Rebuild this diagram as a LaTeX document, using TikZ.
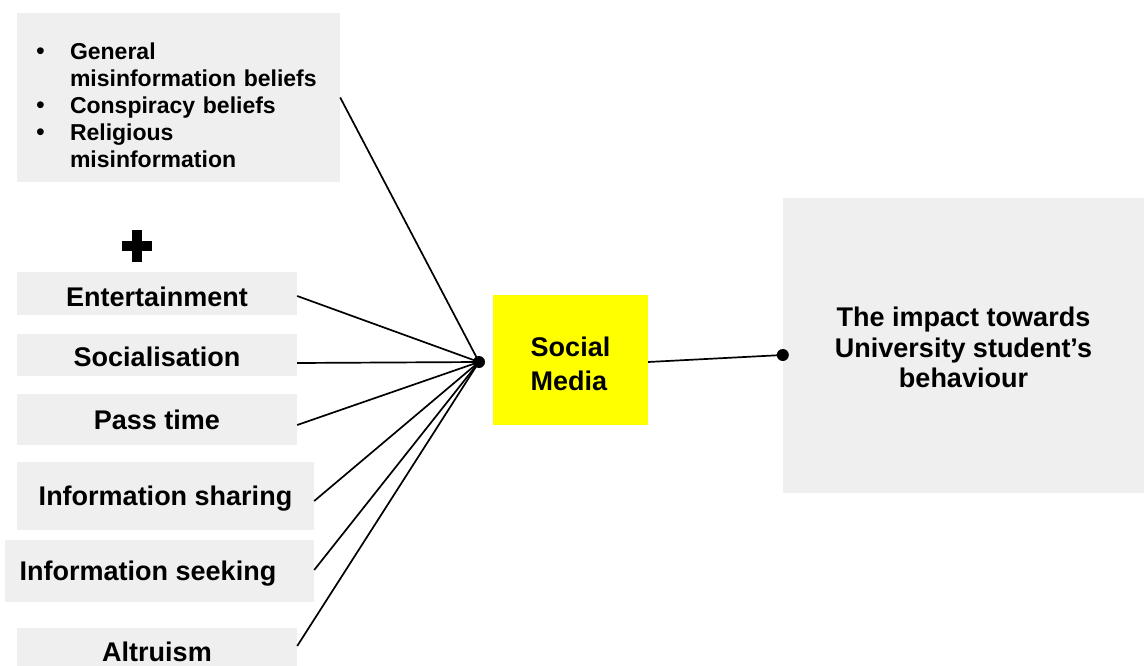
\documentclass[tikz,border=0pt]{standalone}
\usepackage{fontspec}
\setmainfont{Liberation Sans}
\definecolor{boxgray}{RGB}{239,239,239}
\definecolor{smyellow}{RGB}{255,255,0}
\begin{document}
\begin{tikzpicture}[x=1pt,y=-1pt,
  graybox/.style={fill=boxgray, draw=none, inner sep=0pt, align=center,
    text height=19.5pt, text depth=0pt,
    font=\bfseries\fontsize{27}{31}\selectfont},
  wire/.style={line width=1.7pt, black},
  hubdot/.style={circle, fill=black, draw=none, inner sep=0pt, minimum size=12pt}]
\useasboundingbox (0,0) rectangle (1144,666);

% boxes
\node[fill=boxgray, inner xsep=19pt, inner ysep=0pt, minimum width=323pt, minimum height=169pt,
      text width=285pt, align=left, font=\bfseries\fontsize{23}{27}\selectfont]
  (beliefs) at (178.5,97.5)
  {\rule{0pt}{32pt}\makebox[34pt][l]{\mdseries\fontsize{25}{27}\selectfont\textbullet}General\\
   \hspace*{34pt}misinformation beliefs\\
   \makebox[34pt][l]{\mdseries\fontsize{25}{27}\selectfont\textbullet}Conspiracy beliefs\\
   \makebox[34pt][l]{\mdseries\fontsize{25}{27}\selectfont\textbullet}Religious\\
   \hspace*{34pt}misinformation};

\node[graybox, minimum width=280pt, minimum height=43pt] (ent)   at (157,293.5) {\raisebox{-3pt}{Entertainment}};
\node[graybox, minimum width=280pt, minimum height=42pt] (soc)   at (157,355)   {\raisebox{-2pt}{Socialisation}};
\node[graybox, minimum width=280pt, minimum height=51pt] (pass)  at (157,419.5) {Pass time};
\node[graybox, minimum width=297pt, minimum height=68pt] (share) at (165.5,496) {Information sharing};
\node[graybox, minimum width=309pt, minimum height=62pt] (seek)  at (159.5,571) {Information seeking\hspace*{23pt}};
\node[graybox, minimum width=280pt, minimum height=52pt] (alt)   at (157,654)   {\raisebox{2pt}{Altruism}};

\node[fill=smyellow, inner sep=0pt, minimum width=155pt, minimum height=130pt, align=left,
      font=\bfseries\fontsize{27}{34}\selectfont] (sm) at (570.5,360) {\rule{0pt}{28pt}Social\\Media};

\node[fill=boxgray, inner sep=0pt, minimum width=361pt, minimum height=295pt, align=center,
      font=\bfseries\fontsize{27}{30.5}\selectfont] (impact) at (963.5,345.5)
  {\rule{0pt}{24pt}The impact towards\\University student’s\\behaviour};

% plus sign
\fill[black] (122,241) rectangle (152,251);
\fill[black] (132,230) rectangle (142,262);

% junction dots
\node[hubdot] (hub) at (479,362) {};
\node[hubdot] (enddot) at ([yshift=-9.5pt]impact.west) {};

% connectors
\draw[wire] (beliefs.east) -- (hub.center);
\draw[wire] ([yshift=-2.5pt]ent.east) -- (hub.center);
\draw[wire] ([yshift=-8pt]soc.east) -- (hub.center);
\draw[wire] ([yshift=-5.5pt]pass.east) -- (hub.center);
\draw[wire] ([yshift=-5pt]share.east) -- (hub.center);
\draw[wire] ([yshift=1pt]seek.east) -- (hub.center);
\draw[wire] ([yshift=8pt]alt.east) -- (hub.center);
\draw[wire] ([yshift=-2pt]sm.east) -- (enddot.center);
\end{tikzpicture}
\end{document}
